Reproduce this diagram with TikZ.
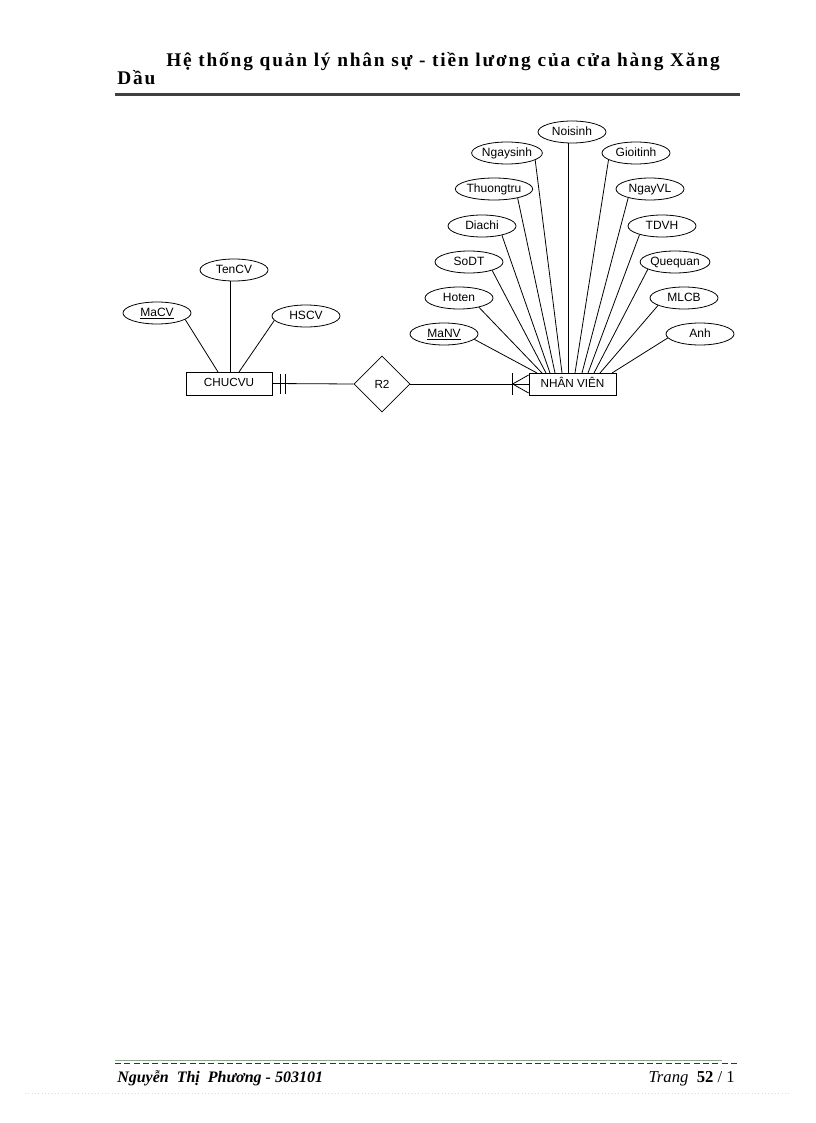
\documentclass[tikz,border=0pt]{standalone}
\usepackage{fontspec}
\setmainfont{Liberation Serif}
\newfontfamily\erfont{Liberation Sans}
\usetikzlibrary{shapes.geometric,calc}
\definecolor{footgreen}{RGB}{140,165,140}
\begin{document}
\begin{tikzpicture}[x=0.75pt,y=-0.75pt,
  attr/.style={ellipse,draw,line width=0.6pt,minimum width=51pt,minimum height=16.5pt,inner sep=0pt,text height=6.6pt,text depth=1.7pt,font=\erfont\fontsize{9}{10}\selectfont},
  ent/.style={rectangle,draw,line width=0.6pt,inner sep=0pt,text height=6.6pt,text depth=1.7pt,font=\erfont\fontsize{8.8}{10}\selectfont},
  rel/.style={diamond,draw,line width=0.6pt,minimum width=42pt,minimum height=42pt,inner sep=0pt,font=\erfont\fontsize{8.8}{10}\selectfont},
  conn/.style={draw,line width=0.6pt}]
\useasboundingbox (0,0) rectangle (816,1123);
% header
\node[anchor=base west,inner sep=0pt,font=\bfseries\fontsize{14.5}{16}\selectfont\addfontfeatures{LetterSpace=9.5}] (h1) at (166,67) {Hệ thống quản lý nhân sự - tiền lương của cửa hàng Xăng};
\node[anchor=base west,inner sep=0pt,font=\bfseries\fontsize{14.5}{16}\selectfont\addfontfeatures{LetterSpace=9.5}] (h2) at (117,85) {Dầu};
\draw[line width=1.6pt,black!75] (115,94.5) -- (740,94.5);
% entities
\node[ent,minimum width=64.5pt,minimum height=17.25pt] (cv) at (229,383.5) {CHUCVU};
\node[ent,minimum width=65.25pt,minimum height=16.5pt] (nv) at (572.5,384) {NHÂN VIÊN};
\node[rel] (r2) at (382,384) {R2};
% CHUCVU attributes
\node[attr] (macv) at (157,313) {\underline{MaCV}};
\node[attr] (tencv) at (234,270) {TenCV};
\node[attr] (hscv) at (306,316) {HSCV};
\coordinate (c1) at (218,372);
\coordinate (c2) at (230,372);
\coordinate (c3) at (239,372);
\draw[conn] (macv.-13) -- (c1);
\draw[conn] (tencv.south -| c2) -- (c2);
\draw[conn] (hscv.-172) -- (c3);
% NHAN VIEN attributes
\node[attr] (noisinh) at (572,132) {Noisinh};
\node[attr] (ngaysinh) at (507,153) {Ngaysinh};
\node[attr] (gioitinh) at (636,153) {Gioitinh};
\node[attr] (thuongtru) at (494,189) {Thuongtru};
\node[attr] (ngayvl) at (650,189) {NgayVL};
\node[attr] (diachi) at (482,226) {Diachi};
\node[attr] (tdvh) at (662,226) {TDVH};
\node[attr] (sodt) at (469,262) {SoDT};
\node[attr] (quequan) at (675,262) {Quequan};
\node[attr] (hoten) at (459,298) {Hoten};
\node[attr] (mlcb) at (684,298) {MLCB};
\node[attr] (manv) at (444,334) {\underline{MaNV}};
\node[attr] (anh) at (700,334) {Anh};
\coordinate (p1) at (537,373);
\coordinate (p2) at (542,373);
\coordinate (p3) at (546,373);
\coordinate (p4) at (550,373);
\coordinate (p5) at (555,373);
\coordinate (p6) at (562,373);
\coordinate (p7) at (568,373);
\coordinate (p8) at (575,373);
\coordinate (p9) at (582,373);
\coordinate (p10) at (588,373);
\coordinate (p11) at (594,373);
\coordinate (p12) at (600,373);
\coordinate (p13) at (612,373);
\draw[conn] (manv.-10) -- (p1);
\draw[conn] (hoten.-25) -- (p2);
\draw[conn] (sodt.-20) -- (p3);
\draw[conn] (diachi.-25) -- (p4);
\draw[conn] (thuongtru.-21) -- (p5);
\draw[conn] (ngaysinh.-14) -- (p6);
\draw[conn] (noisinh.south -| p7) -- (p7);
\draw[conn] (gioitinh.-166) -- (p8);
\draw[conn] (ngayvl.-158) -- (p9);
\draw[conn] (tdvh.-159) -- (p10);
\draw[conn] (quequan.-165) -- (p11);
\draw[conn] (mlcb.-164) -- (p12);
\draw[conn] (anh.-173) -- (p13);
% relationship lines
\draw[conn] (cv.east) -- (r2.west);
\draw[conn] ($(cv.east)+(8,-10)$) -- ($(cv.east)+(8,10)$);
\draw[conn] ($(cv.east)+(13,-10)$) -- ($(cv.east)+(13,10)$);
\draw[conn] (r2.east) -- (nv.west);
\coordinate (cf) at ($(nv.west)+(-16,0)$);
\draw[conn] ($(cf)+(0,-11)$) -- ($(cf)+(0,11)$);
\draw[conn] (cf) -- ($(nv.west)+(0,-9)$);
\draw[conn] (cf) -- ($(nv.west)+(0,9)$);
% footer
\draw[line width=1pt,footgreen] (115,1060.5) -- (722,1060.5);
\draw[line width=0.8pt,black!80,dash pattern=on 4.5pt off 2.5pt] (115,1063.5) -- (740,1063.5);
\node[anchor=base west,inner sep=0pt,font=\bfseries\itshape\fontsize{12}{14}\selectfont] (f1) at (117,1082) {Nguyễn\ \ Thị\ \ Phương - 503101};
\node[anchor=base east,inner sep=0pt,font=\fontsize{12.5}{14}\selectfont] (f2) at (735,1082) {\textit{Trang}\ \ \textbf{52} / 1};
\draw[black!15,dotted,line width=0.5pt] (25,1093) -- (790,1093);
\end{tikzpicture}
\end{document}
